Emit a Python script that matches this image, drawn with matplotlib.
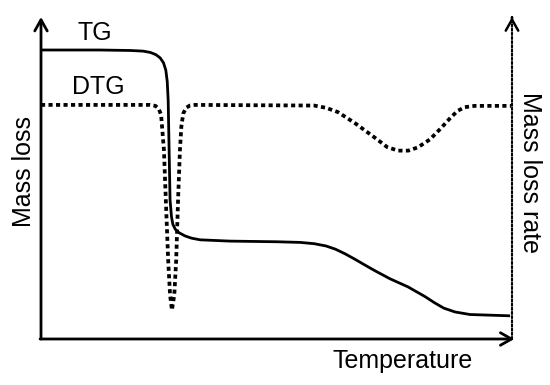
import matplotlib.pyplot as plt

plt.rcParams['font.family'] = ['Liberation Sans', 'DejaVu Sans']

# temperature axis (arbitrary units, 0-100)
tg_temp = [0, 12.5, 19.0, 21.7, 23.2, 24.4, 25.3, 26.0, 26.5, 26.8, 27.0,
           27.4, 27.7, 28.0, 28.5, 29.3, 30.6, 32.0, 33.8, 40.1, 50.0, 55.0,
           58.0, 60.5, 62.5, 64.5, 66.5, 68.5, 70.9, 74.1, 77.9, 81.5, 83.5,
           85.5, 87.9, 91.1, 99.6]
tg_mass = [89.75, 89.75, 89.6, 89.4, 89.0, 88.3, 87.3, 85.8, 83.5, 80.0, 74.2,
           43.2, 38.0, 35.6, 34.1, 33.0, 32.0, 31.3, 30.8, 30.4, 30.2, 30.0,
           29.6, 28.9, 27.9, 26.5, 24.9, 23.2, 21.2, 18.7, 16.2, 13.2, 11.3,
           9.6, 8.4, 7.6, 7.2]

dtg_temp = [0, 23.1, 24.3, 25.0, 25.5, 26.1, 26.5, 27.0, 27.4, 27.8, 28.3,
            28.7, 29.1, 29.5, 29.8, 30.2, 30.8, 31.6, 32.7, 58.0, 60.5, 63.0,
            66.7, 70.9, 73.5, 75.8, 78.0, 80.0, 82.6, 85.0, 87.0, 88.5, 90.0,
            92.1, 99.8]
dtg_rate = [72.7, 72.7, 72.4, 71.5, 69.6, 58.7, 43.2, 24.5, 13.7, 9.0, 13.7,
            24.5, 43.2, 58.7, 66.0, 70.0, 71.8, 72.5, 72.7, 72.5, 71.8, 70.5,
            67.0, 62.5, 59.6, 58.5, 58.5, 59.5, 62.0, 65.6, 68.8, 70.9, 72.0,
            72.4, 72.4]

W, H = 550, 385
fig = plt.figure(figsize=(5.5, 3.85), dpi=100)
# axes box in pixels: left 41, right 512, top 17, bottom 339
ax = fig.add_axes([41 / W, 1 - 339 / H, (512 - 41) / W, (339 - 17) / H])
ax.set_xlim(0, 100)
ax.set_ylim(0, 100)
ax.axis('off')

ax.plot(tg_temp, tg_mass, color='black', lw=2.0, solid_capstyle='butt',
        solid_joinstyle='round')
ax.plot(dtg_temp, dtg_rate, color='black', lw=2.7, linestyle=(0, (1.1, 0.9)),
        dash_capstyle='butt')

# axes with open arrow heads
head = '->,head_length=0.8,head_width=0.45'
arr = dict(arrowstyle=head, color='black', lw=2.0, shrinkA=0, shrinkB=0)
ax.annotate('', xy=(0, 1), xytext=(0, 0), xycoords='axes fraction',
            arrowprops=arr, annotation_clip=False)
ax.annotate('', xy=(1.005, 0), xytext=(-0.002, 0), xycoords='axes fraction',
            arrowprops=arr, annotation_clip=False)
# right axis: dotted shaft, solid head
ax.annotate('', xy=(1, 0.998), xytext=(1, 0), xycoords='axes fraction',
            arrowprops=dict(arrowstyle='-', color='black', lw=1.5,
                            linestyle=(0, (1, 1)), shrinkA=0, shrinkB=0),
            annotation_clip=False)
ax.annotate('', xy=(1, 1), xytext=(1, 0.997), xycoords='axes fraction',
            arrowprops=dict(arrowstyle=head, color='black', lw=1.8,
                            shrinkA=0, shrinkB=0),
            annotation_clip=False)

fs = 18
fig.text(95 / W, 1 - 33 / H, 'TG', fontsize=fs, ha='center', va='center')
fig.text(98 / W, 1 - 87 / H, 'DTG', fontsize=fs, ha='center', va='center')
fig.text(403 / W, 1 - 361 / H, 'Temperature', fontsize=fs, ha='center', va='center')
fig.text(24 / W, 1 - 172 / H, 'Mass loss', fontsize=fs, ha='center', va='center',
         rotation=90)
fig.text(530 / W, 1 - 172 / H, 'Mass loss rate', fontsize=fs, ha='center',
         va='center', rotation=270)

fig.savefig('out.png', dpi=100)
